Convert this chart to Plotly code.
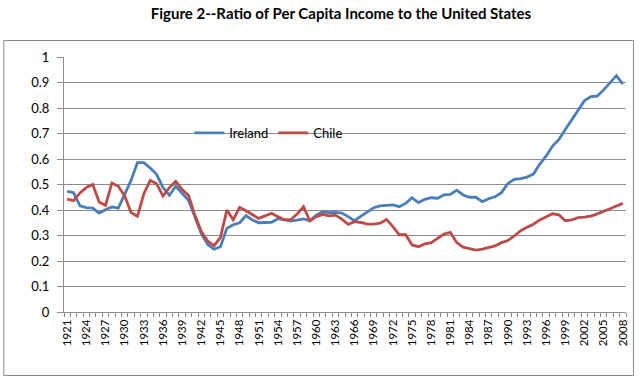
import plotly.graph_objects as go

years = list(range(1921, 2009))

ireland = [
    0.473, 0.468, 0.416, 0.409, 0.407, 0.388, 0.401, 0.412, 0.407, 0.460,
    0.516, 0.586, 0.586, 0.565, 0.540, 0.488, 0.458, 0.493, 0.467, 0.438,
    0.373, 0.307, 0.265, 0.246, 0.256, 0.328, 0.342, 0.350, 0.378, 0.361,
    0.350, 0.350, 0.352, 0.366, 0.360, 0.357, 0.360, 0.365, 0.358, 0.380,
    0.393, 0.390, 0.391, 0.388, 0.374, 0.358, 0.376, 0.393, 0.409, 0.416,
    0.417, 0.420, 0.413, 0.426, 0.448, 0.429, 0.442, 0.448, 0.446, 0.459,
    0.461, 0.478, 0.459, 0.450, 0.450, 0.433, 0.444, 0.452, 0.468, 0.504,
    0.520, 0.523, 0.529, 0.541, 0.580, 0.612, 0.651, 0.677, 0.716, 0.755,
    0.795, 0.829, 0.845, 0.847, 0.871, 0.897, 0.927, 0.894,
]

chile = [
    0.443, 0.437, 0.467, 0.488, 0.500, 0.431, 0.418, 0.506, 0.493, 0.455,
    0.390, 0.375, 0.464, 0.516, 0.503, 0.455, 0.488, 0.512, 0.480, 0.458,
    0.379, 0.316, 0.278, 0.260, 0.293, 0.400, 0.362, 0.410, 0.397, 0.383,
    0.367, 0.377, 0.387, 0.374, 0.362, 0.362, 0.384, 0.413, 0.357, 0.374,
    0.383, 0.377, 0.380, 0.364, 0.344, 0.354, 0.351, 0.345, 0.345, 0.348,
    0.363, 0.335, 0.303, 0.303, 0.263, 0.256, 0.267, 0.272, 0.289, 0.306,
    0.312, 0.272, 0.254, 0.247, 0.243, 0.247, 0.252, 0.259, 0.272, 0.280,
    0.298, 0.319, 0.332, 0.344, 0.361, 0.374, 0.385, 0.381, 0.358, 0.361,
    0.370, 0.372, 0.376, 0.385, 0.394, 0.405, 0.416, 0.426,
]

tick_years = list(range(1921, 2009, 3))
y_ticks = [round(i * 0.1, 1) for i in range(11)]
y_labels = ["0", "0.1", "0.2", "0.3", "0.4", "0.5", "0.6", "0.7", "0.8", "0.9", "1"]

title_text = "Figure 2--Ratio of Per Capita Income to the United States"

FONT = "Lato, 'Open Sans', sans-serif"
GRID = "#8c8c8c"

fig = go.Figure()
fig.add_trace(go.Scatter(x=years, y=ireland, mode="lines", name="Ireland",
                         line=dict(color="#4A7EBB", width=2.8)))
fig.add_trace(go.Scatter(x=years, y=chile, mode="lines", name="Chile",
                         line=dict(color="#BE4B48", width=2.8)))

L, R, T, B = 64, 11, 57, 66
W, H = 640, 378
pw, ph = W - L - R, H - T - B

def px_x(x):
    return (x - L) / pw

def px_y(y):
    return (H - B - y) / ph

fig.add_shape(type="rect", xref="paper", yref="paper",
              x0=px_x(3.5), x1=px_x(636.5), y0=px_y(375.5), y1=px_y(40.5),
              line=dict(color="#8a8a8a", width=1), fillcolor="rgba(0,0,0,0)",
              layer="above")

fig.update_layout(
    width=W, height=H,
    margin=dict(l=L, r=R, t=T, b=B),
    paper_bgcolor="white", plot_bgcolor="white",
    font=dict(family=FONT, size=12, color="#000000"),
    title=dict(text="<b>" + title_text + "</b>", xref="container", x=341 / W, xanchor="center",
               y=1 - 14 / H, yanchor="middle", font=dict(size=15, family=FONT)),
    showlegend=True,
    legend=dict(orientation="h", x=px_x(190), y=px_y(133), xanchor="left", yanchor="middle",
                bgcolor="rgba(0,0,0,0)", font=dict(size=13, family=FONT),
                itemwidth=30, tracegroupgap=0),
    xaxis=dict(
        range=[1920.5, 2008.5],
        tickmode="array", tickvals=tick_years, ticktext=[str(y) for y in tick_years],
        tickangle=-90, tickfont=dict(size=11.5),
        ticks="", showgrid=False, zeroline=False,
        showline=True, linecolor=GRID, linewidth=1,
        ticklabelstandoff=2,
        minor=dict(tickmode="linear", tick0=1920.5, dtick=1, ticks="outside",
                   ticklen=4, tickcolor=GRID, showgrid=False),
    ),
    yaxis=dict(
        range=[0, 1],
        tickmode="array", tickvals=y_ticks, ticktext=y_labels,
        tickfont=dict(size=13),
        ticks="outside", ticklen=6, tickcolor=GRID,
        ticklabelstandoff=5,
        showgrid=True, gridcolor=GRID, gridwidth=1,
        zeroline=False, showline=True, linecolor=GRID, linewidth=1,
    ),
)

fig.write_html("out.html",
               config={"displayModeBar": False},
               post_script="document.body.style.margin='0';document.body.style.overflow='hidden';")
